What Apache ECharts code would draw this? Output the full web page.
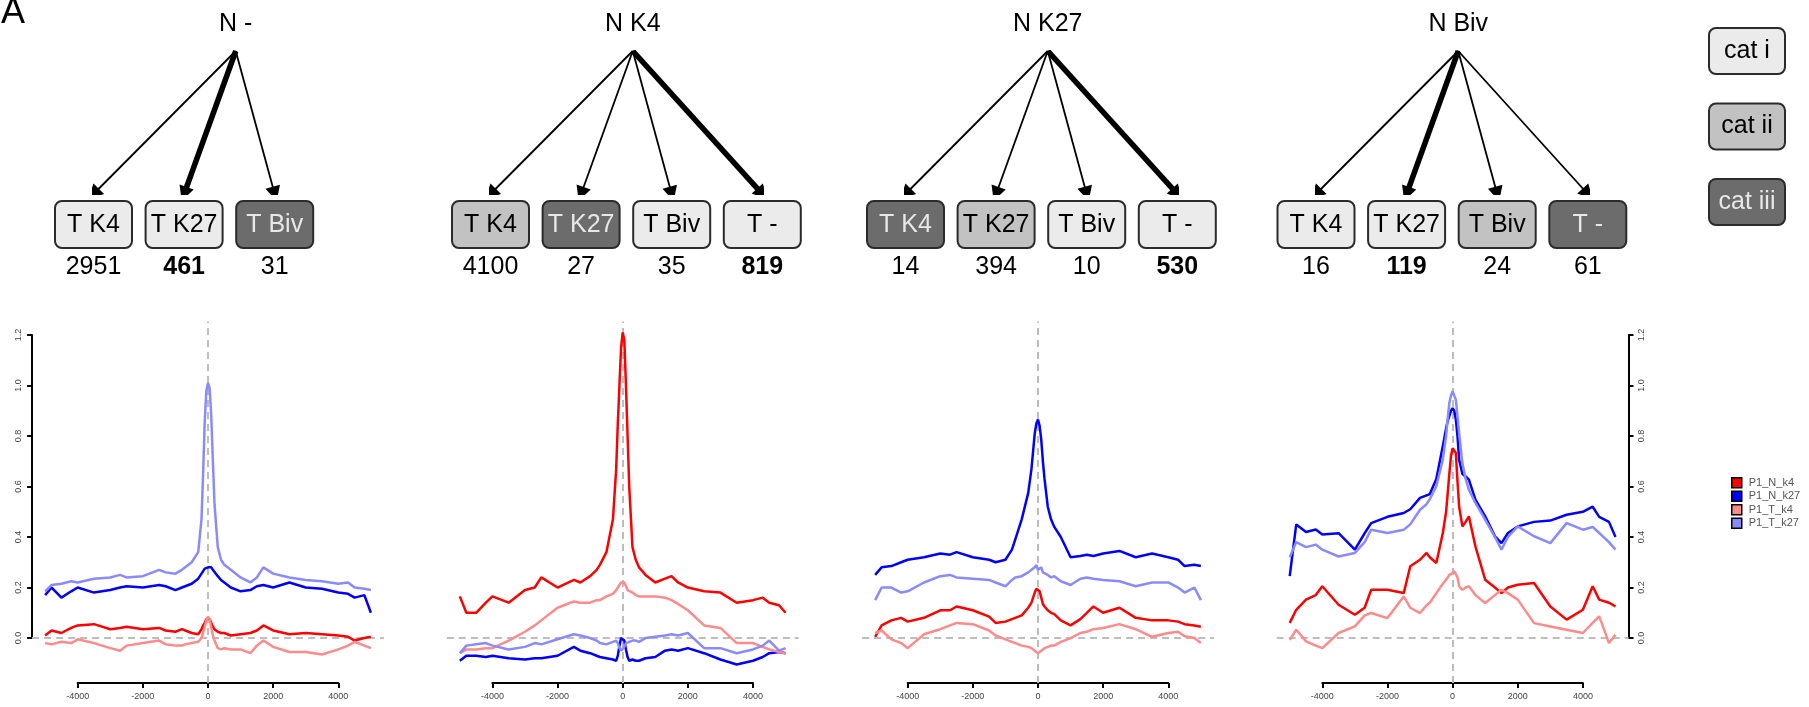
<!DOCTYPE html>
<html><head><meta charset="utf-8">
<script src="https://cdn.jsdelivr.net/npm/echarts@6/dist/echarts.min.js"></script>
<style>html,body{margin:0;padding:0;background:#fff}#c{width:1809px;height:707px}</style>
</head><body><div id="c"></div>
<script>
const FONT = "'Liberation Sans', Arial, Helvetica, sans-serif";

// ---------- diagram data ----------
const diagramTitles = ['N -', 'N K4', 'N K27', 'N Biv'];
const targetLabels = [
  ['T K4', 'T K27', 'T Biv'],
  ['T K4', 'T K27', 'T Biv', 'T -'],
  ['T K4', 'T K27', 'T Biv', 'T -'],
  ['T K4', 'T K27', 'T Biv', 'T -']
];
const targetCounts = [
  [2951, 461, 31],
  [4100, 27, 35, 819],
  [14, 394, 10, 530],
  [16, 119, 24, 61]
];
const targetCats = [
  [1, 1, 3],
  [2, 3, 1, 1],
  [3, 2, 1, 1],
  [1, 1, 2, 3]
];
const majorFlow = [1, 3, 3, 1];
const catNames = ['cat i', 'cat ii', 'cat iii'];

// ---------- profile data ----------
const seriesNames = ['P1_N_k4', 'P1_N_k27', 'P1_T_k4', 'P1_T_k27'];
const positions = [-5000,-4800,-4500,-4200,-4000,-3500,-3000,-2700,-2500,-2000,-1500,-1300,-1000,-800,-700,-500,-300,-200,-150,-100,-50,0,50,100,150,200,300,400,500,700,1000,1300,1500,1700,2000,2500,3000,3500,4000,4300,4500,4800,5000];
const xTicks = [-4000, -2000, 0, 2000, 4000];
const yTicks = [0, 0.2, 0.4, 0.6, 0.8, 1.0, 1.2];

const p1_N_k4  = [0.01,0.03,0.02,0.04,0.05,0.055,0.035,0.04,0.045,0.035,0.04,0.03,0.025,0.035,0.03,0.02,0.015,0.035,0.05,0.06,0.075,0.08,0.075,0.06,0.045,0.035,0.025,0.02,0.02,0.01,0.015,0.02,0.03,0.05,0.03,0.015,0.02,0.015,0.01,0.005,-0.01,0.0,0.005];
const p1_N_k27 = [0.17,0.2,0.16,0.185,0.2,0.18,0.19,0.2,0.205,0.2,0.21,0.205,0.19,0.2,0.205,0.215,0.235,0.255,0.265,0.275,0.28,0.28,0.285,0.28,0.27,0.265,0.245,0.23,0.22,0.2,0.185,0.19,0.205,0.21,0.2,0.22,0.2,0.195,0.18,0.175,0.16,0.17,0.1];
const p1_T_k4  = [-0.02,-0.025,-0.015,-0.02,-0.005,-0.02,-0.04,-0.05,-0.03,-0.02,-0.01,-0.025,-0.03,-0.03,-0.025,-0.02,-0.015,0.0,0.02,0.045,0.07,0.085,0.075,0.04,0.01,-0.01,-0.04,-0.045,-0.04,-0.045,-0.045,-0.06,-0.03,-0.01,-0.035,-0.055,-0.055,-0.065,-0.045,-0.03,-0.015,-0.03,-0.04];
const p1_T_k27 = [0.185,0.21,0.215,0.225,0.22,0.235,0.24,0.25,0.24,0.245,0.27,0.26,0.255,0.27,0.28,0.3,0.34,0.47,0.65,0.86,0.98,1.01,0.99,0.88,0.7,0.53,0.36,0.31,0.29,0.27,0.24,0.22,0.24,0.28,0.255,0.24,0.23,0.225,0.215,0.22,0.2,0.195,0.19];

const p2_N_k4  = [0.165,0.1,0.1,0.14,0.165,0.14,0.19,0.2,0.24,0.2,0.23,0.22,0.245,0.27,0.29,0.34,0.47,0.67,0.85,1.0,1.15,1.21,1.18,1.0,0.8,0.6,0.36,0.31,0.28,0.25,0.22,0.235,0.245,0.22,0.2,0.185,0.18,0.14,0.15,0.16,0.14,0.13,0.1];
const p2_N_k27 = [-0.09,-0.07,-0.07,-0.075,-0.07,-0.08,-0.085,-0.08,-0.08,-0.07,-0.035,-0.05,-0.06,-0.07,-0.075,-0.08,-0.085,-0.09,-0.07,-0.03,0.0,0.005,-0.01,-0.045,-0.075,-0.09,-0.085,-0.09,-0.09,-0.08,-0.075,-0.05,-0.045,-0.05,-0.04,-0.06,-0.085,-0.105,-0.09,-0.075,-0.06,-0.055,-0.06];
const p2_T_k4  = [-0.06,-0.045,-0.045,-0.04,-0.04,-0.01,0.025,0.05,0.07,0.12,0.145,0.14,0.14,0.15,0.15,0.165,0.175,0.19,0.2,0.21,0.22,0.225,0.22,0.205,0.19,0.19,0.18,0.17,0.165,0.165,0.165,0.16,0.15,0.135,0.11,0.05,0.04,-0.02,-0.02,-0.035,-0.045,-0.055,-0.06];
const p2_T_k27 = [-0.06,-0.03,-0.025,-0.02,-0.03,-0.045,-0.035,-0.02,-0.025,-0.005,0.015,0.01,0.0,-0.01,-0.02,-0.025,-0.015,-0.01,-0.02,-0.04,-0.05,-0.05,-0.035,-0.02,-0.015,-0.015,-0.01,-0.01,-0.015,0.0,0.005,0.01,0.015,0.01,0.02,-0.04,-0.04,-0.06,-0.045,-0.03,-0.01,-0.05,-0.04];

const p3_N_k4  = [0.005,0.05,0.07,0.08,0.065,0.08,0.11,0.11,0.125,0.11,0.085,0.06,0.065,0.075,0.08,0.09,0.12,0.14,0.16,0.18,0.195,0.2,0.185,0.16,0.135,0.125,0.11,0.1,0.095,0.07,0.05,0.075,0.1,0.125,0.1,0.12,0.08,0.07,0.07,0.065,0.055,0.05,0.045];
const p3_N_k27 = [0.25,0.28,0.285,0.3,0.31,0.32,0.335,0.33,0.34,0.32,0.31,0.3,0.31,0.35,0.39,0.47,0.575,0.67,0.74,0.81,0.85,0.865,0.84,0.785,0.7,0.63,0.52,0.47,0.44,0.4,0.32,0.325,0.33,0.325,0.335,0.345,0.32,0.335,0.32,0.31,0.285,0.29,0.285];
const p3_T_k4  = [0.02,0.03,-0.005,-0.02,-0.04,0.015,0.035,0.05,0.06,0.055,0.03,0.01,-0.005,-0.015,-0.02,-0.03,-0.035,-0.04,-0.045,-0.05,-0.055,-0.06,-0.055,-0.05,-0.045,-0.04,-0.035,-0.03,-0.03,-0.015,0.0,0.02,0.025,0.035,0.04,0.055,0.035,0.005,0.02,0.025,0.007,0.0,-0.02];
const p3_T_k27 = [0.15,0.2,0.2,0.18,0.185,0.22,0.245,0.25,0.24,0.235,0.23,0.22,0.205,0.23,0.24,0.245,0.26,0.27,0.275,0.28,0.29,0.27,0.265,0.28,0.26,0.255,0.25,0.24,0.245,0.225,0.21,0.235,0.24,0.235,0.23,0.225,0.205,0.22,0.22,0.2,0.18,0.2,0.15];

const p4_N_k4  = [0.06,0.112,0.152,0.17,0.205,0.132,0.092,0.12,0.191,0.191,0.178,0.284,0.31,0.337,0.32,0.297,0.416,0.5,0.574,0.65,0.72,0.752,0.745,0.733,0.62,0.521,0.442,0.46,0.482,0.363,0.231,0.2,0.178,0.2,0.211,0.218,0.125,0.073,0.112,0.205,0.152,0.14,0.125];
const p4_N_k27 = [0.245,0.45,0.42,0.43,0.41,0.415,0.35,0.415,0.455,0.48,0.495,0.51,0.555,0.565,0.57,0.63,0.76,0.83,0.86,0.88,0.9,0.91,0.9,0.865,0.8,0.706,0.65,0.64,0.627,0.548,0.482,0.403,0.376,0.416,0.442,0.46,0.465,0.488,0.5,0.52,0.48,0.46,0.4];
const p4_T_k4  = [-0.007,0.033,-0.013,-0.03,-0.04,0.02,0.046,0.09,0.099,0.079,0.165,0.12,0.099,0.13,0.14,0.178,0.215,0.231,0.24,0.25,0.255,0.257,0.265,0.271,0.24,0.205,0.191,0.2,0.205,0.17,0.139,0.17,0.191,0.178,0.152,0.059,0.046,0.033,0.02,0.06,0.086,-0.02,0.013];
const p4_T_k27 = [0.32,0.38,0.36,0.37,0.35,0.323,0.337,0.38,0.429,0.416,0.429,0.45,0.508,0.53,0.55,0.601,0.706,0.8,0.87,0.931,0.96,0.977,0.96,0.944,0.88,0.812,0.693,0.63,0.587,0.535,0.469,0.4,0.35,0.4,0.442,0.403,0.376,0.455,0.429,0.44,0.416,0.38,0.35];

const panels = [
  [p1_N_k4, p1_N_k27, p1_T_k4, p1_T_k27],
  [p2_N_k4, p2_N_k27, p2_T_k4, p2_T_k27],
  [p3_N_k4, p3_N_k27, p3_T_k4, p3_T_k27],
  [p4_N_k4, p4_N_k27, p4_T_k4, p4_T_k27]
];

// ---------- styles / layout ----------
const lineColors = ['#ff0000', '#0000ff', '#ff8a8a', '#8a8aff'];
const catStyle = [
  { fill: '#ebebeb', text: '#000000' },
  { fill: '#c2c2c2', text: '#000000' },
  { fill: '#6c6c6c', text: '#e8e8e8' }
];
const plotZero = [208, 622.7, 1038, 1452.6];
const PX_PER_UNIT_X = 130.3 / 4000;
const PLOT_TOP = 321.6, PLOT_H = 361.4;
const Y_MIN = -0.178, Y_MAX = 1.253;
const slot0 = [93.5, 490.5, 905.5, 1316];
const SLOT_GAP = 90.6;
const ROOT_SLOT = 1.57;
const DIAG_TOP = 51, DIAG_H = 143;

const grid = [], xAxis = [], yAxis = [], series = [];
function addGrid(g, xa, ya) {
  const gi = grid.length;
  grid.push(Object.assign({ containLabel: false }, g));
  xAxis.push(Object.assign({ type: 'value', gridIndex: gi, splitLine: { show: false } }, xa));
  yAxis.push(Object.assign({ type: 'value', gridIndex: gi, splitLine: { show: false } }, ya));
  return gi;
}

const tickLabelStyle = { fontSize: 9, color: '#444', fontFamily: FONT };
const axisLineStyle = { show: true, onZero: false, lineStyle: { color: '#000', width: 2 } };
const axisTickStyle = { show: true, length: 5, inside: false, lineStyle: { color: '#000', width: 2 } };

// data grids
for (let p = 0; p < 4; p++) {
  const half = 5400 * PX_PER_UNIT_X;
  const gi = addGrid(
    { left: plotZero[p] - half, width: 2 * half, top: PLOT_TOP, height: PLOT_H },
    { min: -5400, max: 5400, show: false },
    { min: Y_MIN, max: Y_MAX, show: false }
  );
  panels[p].forEach((vals, k) => {
    const s = {
      type: 'line', name: seriesNames[k], xAxisIndex: gi, yAxisIndex: gi,
      data: positions.map((x, i) => [x, vals[i]]),
      showSymbol: false, symbol: 'none', silent: true, z: 2 + k,
      color: lineColors[k],
      lineStyle: { color: lineColors[k], width: 2.5 },
      itemStyle: { color: lineColors[k] }
    };
    if (k === 0) {
      s.markLine = {
        silent: true, symbol: 'none', label: { show: false }, z: 1,
        lineStyle: { color: '#bdbdbd', type: [7, 5], width: 2 },
        data: [{ xAxis: 0 }, { yAxis: 0 }]
      };
    }
    series.push(s);
  });
}

// x-axis display grids (axis line spans first to last tick)
for (let p = 0; p < 4; p++) {
  const half = 4000 * PX_PER_UNIT_X;
  addGrid(
    { left: plotZero[p] - half, width: 2 * half, top: PLOT_TOP, height: 683 - PLOT_TOP },
    { min: xTicks[0], max: xTicks[xTicks.length - 1], interval: 2000,
      axisLine: axisLineStyle, axisTick: axisTickStyle,
      axisLabel: Object.assign({ margin: 9, formatter: v => String(v) }, tickLabelStyle) },
    { show: false, min: 0, max: 1 }
  );
}

// y-axis display grids (left for panel 1, right for panel 4)
const yPix0 = PLOT_TOP + PLOT_H * (Y_MAX - 0) / (Y_MAX - Y_MIN);
const yPix12 = PLOT_TOP + PLOT_H * (Y_MAX - 1.2) / (Y_MAX - Y_MIN);
[0, 3].forEach((p, j) => {
  const half = 5400 * PX_PER_UNIT_X;
  addGrid(
    { left: plotZero[p] - half, width: 2 * half, top: yPix12, height: yPix0 - yPix12 },
    { show: false, min: 0, max: 1 },
    { min: yTicks[0], max: yTicks[yTicks.length - 1], interval: 0.2,
      position: j === 0 ? 'left' : 'right',
      axisLine: axisLineStyle, axisTick: axisTickStyle,
      axisLabel: Object.assign({ margin: 9, rotate: 90, formatter: v => v.toFixed(1) }, tickLabelStyle) }
  );
});

// diagrams
for (let d = 0; d < 4; d++) {
  const gi = addGrid(
    { left: slot0[d], width: 3 * SLOT_GAP, top: DIAG_TOP, height: DIAG_H },
    { min: 0, max: 3, show: false },
    { min: 0, max: 1, inverse: true, show: false }
  );
  const labels = targetLabels[d], counts = targetCounts[d], cats = targetCats[d];
  // arrows
  series.push({
    type: 'lines', coordinateSystem: 'cartesian2d', xAxisIndex: gi, yAxisIndex: gi,
    symbol: ['none', 'triangle'], symbolSize: 15, silent: true, z: 3, animation: false,
    lineStyle: { color: '#000', opacity: 1, width: 1.8, curveness: 0 },
    data: labels.map((_, i) => ({
      coords: [[ROOT_SLOT, 0], [i, 1]],
      lineStyle: { width: i === majorFlow[d] ? 5.5 : 1.8 }
    }))
  });
  // root title
  series.push({
    type: 'custom', xAxisIndex: gi, yAxisIndex: gi, silent: true, z: 5,
    data: [[ROOT_SLOT, 0]],
    renderItem: (params, api) => {
      const pt = api.coord([api.value(0), api.value(1)]);
      return { type: 'text', x: pt[0], y: pt[1] - 27,
        style: { text: diagramTitles[d], fill: '#000', fontSize: 25, fontFamily: FONT,
                 align: 'center', verticalAlign: 'middle' } };
    }
  });
  // target boxes + counts
  series.push({
    type: 'custom', xAxisIndex: gi, yAxisIndex: gi, silent: true, z: 5,
    data: labels.map((_, i) => [i, 1]),
    renderItem: (params, api) => {
      const i = params.dataIndex;
      const pt = api.coord([api.value(0), api.value(1)]);
      const st = catStyle[cats[i] - 1];
      return { type: 'group', children: [
        { type: 'rect', shape: { x: pt[0] - 38.5, y: pt[1] + 7, width: 77, height: 47, r: 7 },
          style: { fill: st.fill, stroke: '#2b2b2b', lineWidth: 2 } },
        { type: 'text', x: pt[0], y: pt[1] + 31,
          style: { text: labels[i], fill: st.text, fontSize: 25, fontFamily: FONT,
                   align: 'center', verticalAlign: 'middle' } },
        { type: 'text', x: pt[0], y: pt[1] + 73,
          style: { text: String(counts[i]), fill: '#000', fontSize: 25, fontFamily: FONT,
                   fontWeight: i === majorFlow[d] ? 'bold' : 'normal',
                   align: 'center', verticalAlign: 'middle' } }
      ] };
    }
  });
}

// category key
{
  const gi = addGrid(
    { left: 1737, width: 20, top: 51, height: 151 },
    { min: -1, max: 1, show: false },
    { min: 0, max: 2, inverse: true, show: false }
  );
  series.push({
    type: 'custom', xAxisIndex: gi, yAxisIndex: gi, silent: true, z: 5,
    data: catNames.map((_, i) => [0, i]),
    renderItem: (params, api) => {
      const i = params.dataIndex;
      const pt = api.coord([api.value(0), api.value(1)]);
      const st = catStyle[i];
      return { type: 'group', children: [
        { type: 'rect', shape: { x: pt[0] - 38, y: pt[1] - 23, width: 76, height: 46, r: 7 },
          style: { fill: st.fill, stroke: '#2b2b2b', lineWidth: 2 } },
        { type: 'text', x: pt[0], y: pt[1],
          style: { text: catNames[i], fill: st.text, fontSize: 25, fontFamily: FONT,
                   align: 'center', verticalAlign: 'middle' } }
      ] };
    }
  });
}

const chart = echarts.init(document.getElementById('c'), null, { renderer: 'canvas' });
chart.setOption({
  animation: false,
  backgroundColor: '#ffffff',
  title: { text: 'A', left: -4, top: -10, textStyle: { fontSize: 36, fontWeight: 'normal', color: '#000', fontFamily: FONT } },
  legend: {
    data: seriesNames, orient: 'vertical', left: 1726, top: 472,
    itemWidth: 10, itemHeight: 10, itemGap: 2, icon: 'rect', selectedMode: false,
    itemStyle: { borderColor: '#000', borderWidth: 1.5 },
    textStyle: { fontSize: 11, color: '#555', fontFamily: FONT, padding: [0, 0, 0, 2] }
  },
  grid, xAxis, yAxis, series
});
</script>
</body></html>
